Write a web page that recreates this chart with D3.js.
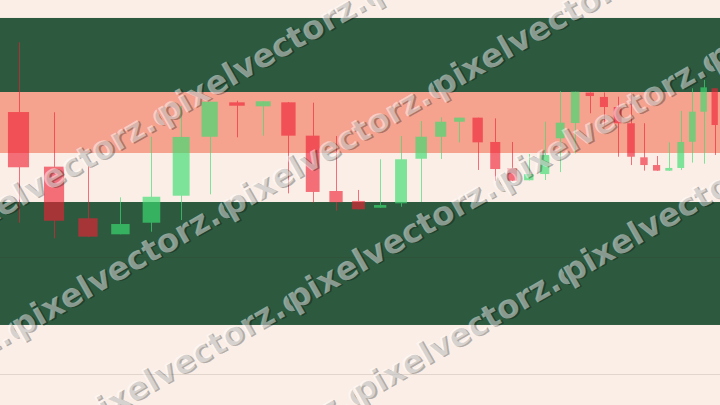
<!DOCTYPE html>
<html><head><meta charset="utf-8">
<script src="https://cdn.jsdelivr.net/npm/d3@7"></script>
<style>html,body{margin:0;padding:0;background:#FAEEE6;}svg{display:block;}</style>
</head><body>
<svg id="c" width="720" height="405"></svg>
<script>
// ---- data ----
const days = d3.range(36);
const open  = [122.39,117.72,113.31,111.94,112.93,115.24,120.28,123.22,122.88,123.22,120.37,115.64,114.79,114.21,114.59,118.40,120.28,121.56,121.91,119.83,117.58,116.56,117.09,120.15,121.45,124.05,123.68,122.82,121.43,118.52,117.86,117.38,117.61,119.85,122.42,124.42];
const close = [117.67,113.10,111.74,112.82,115.15,120.26,123.27,122.93,123.31,120.37,115.56,114.68,114.08,114.44,118.35,120.28,121.56,121.91,119.80,117.52,116.52,117.09,118.72,121.48,124.13,123.76,122.82,121.43,118.57,117.86,117.38,117.61,119.83,122.42,124.50,121.28];
const high  = [128.35,122.37,117.78,115.10,120.28,122.91,123.27,123.36,123.33,123.25,123.19,120.34,115.73,118.35,120.34,121.62,121.94,121.91,121.91,121.85,119.83,118.80,121.56,124.19,124.13,124.08,124.06,123.70,123.99,121.43,118.63,119.80,122.48,124.42,125.13,124.42];
const low   = [112.93,111.60,111.70,111.94,112.16,113.16,115.36,120.23,120.37,115.44,114.64,113.96,114.05,114.20,114.30,114.70,118.38,119.80,117.44,116.52,116.50,116.55,116.58,117.26,118.86,122.28,121.20,118.57,117.86,117.38,117.37,117.37,117.44,118.07,117.98,118.72];
const zoneLow  = [124.10, 118.89, 104.19];
const zoneHigh = [130.43, 124.10, 114.70];
const zoneKind = ["resistance", "mid", "support"];
const gridValues = [100, 110];
const watermark = "pixelvectorz.com";

// ---- setup ----
const W = 720, H = 405;
const svg = d3.select("#c");
const K = 42.2;
const x = d3.scalePow().exponent(-1).domain([0 + K, 35 + K]).range([18.5, 714.7]);
const y = d3.scaleLinear().domain([100, 130]).range([374, 23]);
const zoneColor = {resistance: "#2D5A3F", mid: "#F5A28E", support: "#2D5A3F"};

svg.append("rect").attr("width", W).attr("height", H).attr("fill", "#FAEEE6");

svg.append("g").selectAll("rect").data(zoneKind).join("rect")
  .attr("x", 0).attr("width", W)
  .attr("y", (d, i) => y(zoneHigh[i]))
  .attr("height", (d, i) => y(zoneLow[i]) - y(zoneHigh[i]))
  .attr("fill", d => zoneColor[d]);

svg.append("g").selectAll("line").data(gridValues).join("line")
  .attr("x1", 0).attr("x2", W)
  .attr("y1", d => Math.round(y(d)) + 0.5).attr("y2", d => Math.round(y(d)) + 0.5)
  .attr("stroke", "rgba(60,30,20,0.12)").attr("stroke-width", 1);

const up = "rgb(60,222,112)", down = "rgb(240,32,52)";
const bw = d => 0.58 * (x(d + 0.5 + K) - x(d - 0.5 + K));
const cg = svg.append("g").selectAll("g").data(days).join("g")
  .attr("opacity", d => close[d] >= open[d] ? 0.66 : 0.62);
cg.append("line")
  .attr("x1", d => Math.round(x(d + K)) + 0.5).attr("x2", d => Math.round(x(d + K)) + 0.5)
  .attr("y1", d => y(high[d])).attr("y2", d => y(low[d]))
  .attr("stroke", d => close[d] >= open[d] ? up : down).attr("stroke-width", 1);
cg.append("rect")
  .attr("x", d => x(d + K) - bw(d) / 2)
  .attr("width", bw)
  .attr("y", d => y(Math.max(open[d], close[d])))
  .attr("height", d => Math.max(1.5, Math.abs(y(open[d]) - y(close[d]))))
  .attr("fill", d => close[d] >= open[d] ? up : down);

// ---- watermark (rotated tiles, each clipped to its tile width) ----
const ang = -29.7, rad = ang * Math.PI / 180;
const tileW = 242;
const ux = Math.cos(rad), uy = Math.sin(rad);
const defs = svg.append("defs");
defs.append("clipPath").attr("id", "tile").append("rect")
  .attr("x", -2).attr("y", -45).attr("width", tileW + 3).attr("height", 70);
const tiles = [];
for (let r = 0; r < 4; r++) {
  for (let k = -1; k < 5; k++) {
    const ox = 19 + 65 * (r - 1) + tileW * ux * k;
    const oy = 338 + 93 * (r - 1) + tileW * uy * k;
    tiles.push([ox, oy]);
  }
}
const wm = svg.append("g").attr("font-family", "DejaVu Sans").attr("font-weight", "bold").attr("font-size", 32.3);
const tg = wm.selectAll("g").data(tiles).join("g")
  .attr("transform", d => `translate(${d[0]},${d[1]}) rotate(${ang})`)
  .append("g").attr("clip-path", "url(#tile)");
tg.append("text").attr("x", 1.6).attr("y", 1.6).attr("fill", "rgba(0,0,0,0.28)").text(watermark);
tg.append("text").attr("fill", "rgba(255,255,255,0.47)").text(watermark);
</script>
</body></html>
